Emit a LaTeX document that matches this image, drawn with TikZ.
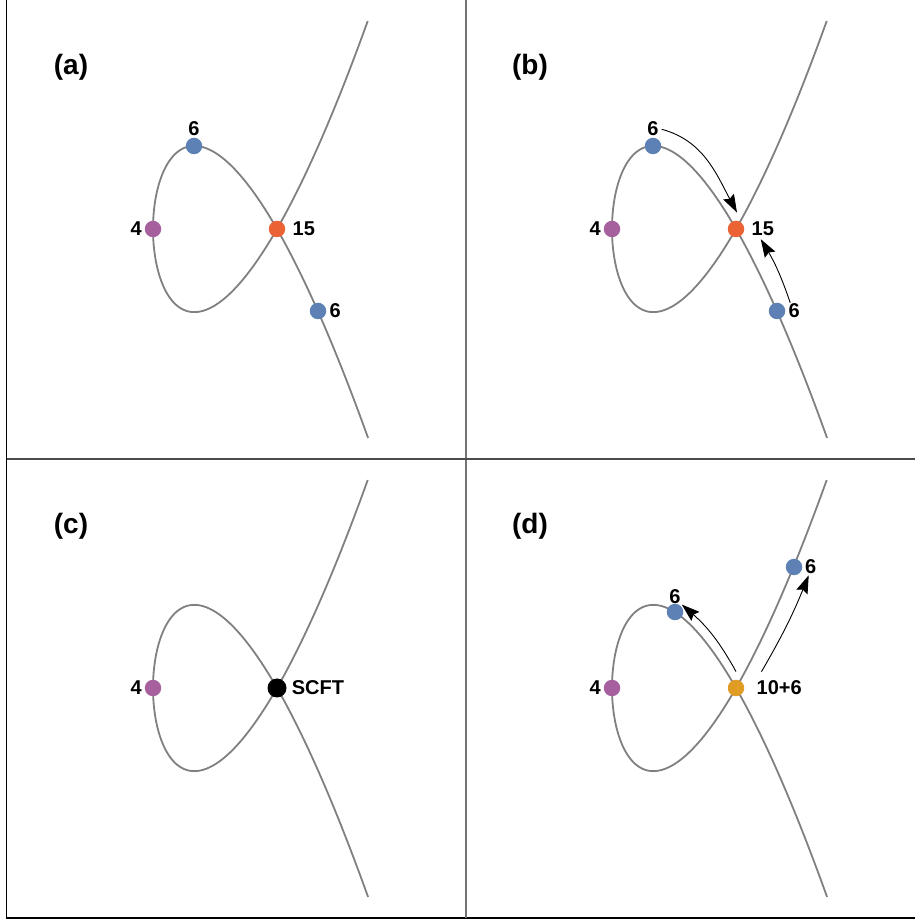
\documentclass[tikz,border=0pt]{standalone}
\usepackage{fontspec}
\setmainfont{Liberation Sans}
\usetikzlibrary{positioning,arrows.meta}

\definecolor{dotblue}{HTML}{5E81B5}
\definecolor{dotpurple}{HTML}{A5609D}
\definecolor{dotred}{HTML}{EB6235}
\definecolor{dotorange}{HTML}{E19C24}

\begin{document}
\begin{tikzpicture}[x=1pt, y=1pt,
    dot/.style={circle, fill=#1, inner sep=0pt, minimum size=16.5pt},
    bigdot/.style={circle, fill=black, inner sep=0pt, minimum size=19pt},
    lab/.style={font=\fontsize{20}{22}\selectfont\bfseries, inner sep=1pt},
    panel/.style={font=\fontsize{28}{30}\selectfont\bfseries, inner sep=0pt},
    curve/.style={black!50, line width=1.8pt},
    arr/.style={-{Stealth[length=18pt, width=12pt, inset=2.5pt]}, line width=0.9pt}]
    \useasboundingbox (0,0) rectangle (915,922);

    % Frame and dividers
    \draw[black, line width=1.4pt] (6.5,922) -- (6.5,4) -- (915,4);
    \draw[black!55, line width=1.3pt] (466,4) -- (466,922);
    \draw[black!70, line width=1.3pt] (6.5,463) -- (915,463);

    % Nodal curve in each panel
    \foreach \px/\py in {277/693, 736/693, 277/234, 736/234}
        \draw[curve, shift={(\px,\py)}, domain=-1.317:1.317, samples=120, smooth, variable=\t]
            plot ({124*(\t*\t-1)}, {216*\t*(\t*\t-1)});

    % Panel labels
    \node[panel] (pa) at (71,855) {(a)};
    \node[panel] (pb) at (530,855) {(b)};
    \node[panel] (pc) at (71,396) {(c)};
    \node[panel] (pd) at (530,396) {(d)};

    % (a)
    \begin{scope}[shift={(277,693)}]
        \node[dot=dotred] (a15) at (0,0) {};
        \node[dot=dotpurple] (a4) at (-124,0) {};
        \node[dot=dotblue] (a6t) at (-83,83) {};
        \node[dot=dotblue] (a6b) at (41,-82) {};
        \node[lab, above=0.5pt of a6t] (a6tlab) {6};
        \node[lab, left=1.5pt of a4] (a4lab) {4};
        \node[lab, right=6pt of a15] (a15lab) {15};
        \node[lab, right=2pt of a6b] (a6blab) {6};
    \end{scope}

    % (b)
    \begin{scope}[shift={(736,693)}]
        \node[dot=dotred] (b15) at (0,0) {};
        \node[dot=dotpurple] (b4) at (-124,0) {};
        \node[dot=dotblue] (b6t) at (-83,83) {};
        \node[dot=dotblue] (b6b) at (41,-82) {};
        \node[lab, above=0.5pt of b6t] (b6tlab) {6};
        \node[lab, left=1.5pt of b4] (b4lab) {4};
        \node[lab, right=6pt of b15] (b15lab) {15};
        \node[lab, right=2pt of b6b] (b6blab) {6};
        \draw[arr, shorten <=2pt] (b6tlab.east) to[out=-15, in=118] ([shift={(1pt,8pt)}]b15.north);
        \draw[arr] ([xshift=-4pt]b6blab.north) to[bend right=6] ([shift={(-2pt,-2pt)}]b15lab.south);
    \end{scope}

    % (c)
    \begin{scope}[shift={(277,234)}]
        \node[bigdot] (cscft) at (0,0) {};
        \node[dot=dotpurple] (c4) at (-124,0) {};
        \node[lab, left=1.5pt of c4] (c4lab) {4};
        \node[lab, right=4pt of cscft] (cscftlab) {SCFT};
    \end{scope}

    % (d)
    \begin{scope}[shift={(736,234)}]
        \node[dot=dotorange] (d16) at (0,0) {};
        \node[dot=dotpurple] (d4) at (-124,0) {};
        \node[dot=dotblue] (d6t) at (-61,76) {};
        \node[dot=dotblue] (d6r) at (58,121) {};
        \node[lab, left=1.5pt of d4] (d4lab) {4};
        \node[lab, right=11pt of d16] (d16lab) {10+6};
        \node[lab, above=-1pt of d6t] (d6tlab) {6};
        \node[lab, right=1.5pt of d6r] (d6rlab) {6};
        \draw[arr] ([yshift=8pt]d16.north) to[bend right=10] (d6tlab.south east);
        \draw[arr] ([shift={(6pt,8pt)}]d16lab.north west) to[bend right=4] ([xshift=-2pt]d6rlab.south);
    \end{scope}
\end{tikzpicture}
\end{document}
